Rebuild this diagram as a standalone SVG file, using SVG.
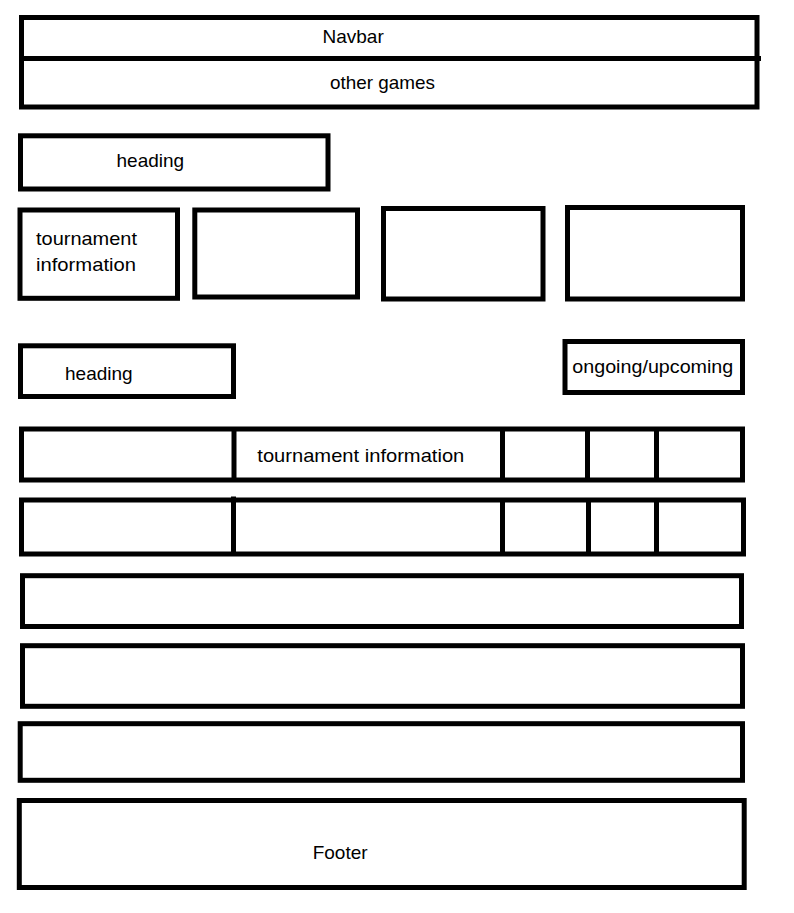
<svg xmlns="http://www.w3.org/2000/svg" width="794" height="913" viewBox="0 0 794 913">
<style>
  .box { fill: none; stroke: #000; stroke-width: 5; }
  .ln { stroke: #000; stroke-width: 5; }
  .t { font-family: "Liberation Sans", Arial, sans-serif; font-size: 19px; fill: #000; }
</style>
<rect width="794" height="913" fill="#fff"/>
<g id="navbar">
  <rect class="box" x="21.5" y="17.5" width="735.5" height="89.5"/>
  <line class="ln" x1="21.5" y1="58.5" x2="761" y2="58.5"/>
  <text class="t" x="322.5" y="43">Navbar</text>
  <text class="t" x="330" y="89" textLength="105" lengthAdjust="spacingAndGlyphs">other games</text>
</g>
<g id="heading1">
  <rect class="box" x="20.5" y="135.8" width="307.5" height="53.2"/>
  <text class="t" x="116.5" y="167">heading</text>
</g>
<g id="card1">
  <rect class="box" x="20" y="210" width="157.5" height="88.3"/>
  <text class="t" x="36" y="245" textLength="101" lengthAdjust="spacingAndGlyphs">tournament</text>
  <text class="t" x="36" y="271" textLength="100" lengthAdjust="spacingAndGlyphs">information</text>
</g>
<g id="card2">
  <rect class="box" x="194.8" y="210" width="162.7" height="87"/>
</g>
<g id="card3">
  <rect class="box" x="383.5" y="208.5" width="159.5" height="90.5"/>
</g>
<g id="card4">
  <rect class="box" x="567.5" y="207.5" width="175" height="91.5"/>
</g>
<g id="heading2">
  <rect class="box" x="20.5" y="345.8" width="213" height="50.7"/>
  <text class="t" x="65" y="380">heading</text>
</g>
<g id="ongoing">
  <rect class="box" x="565" y="341.5" width="177.5" height="51"/>
  <text class="t" x="572.3" y="373" textLength="161" lengthAdjust="spacingAndGlyphs">ongoing/upcoming</text>
</g>
<g id="row1">
  <rect class="box" x="21.5" y="429" width="721" height="51"/>
  <line class="ln" x1="234" y1="429" x2="234" y2="480"/>
  <line class="ln" x1="502.5" y1="429" x2="502.5" y2="480"/>
  <line class="ln" x1="587.5" y1="429" x2="587.5" y2="480"/>
  <line class="ln" x1="656.5" y1="429" x2="656.5" y2="480"/>
  <text class="t" x="257.3" y="462" textLength="207" lengthAdjust="spacingAndGlyphs">tournament information</text>
</g>
<g id="row2">
  <rect class="box" x="21.5" y="500" width="722" height="54"/>
  <line class="ln" x1="233.5" y1="496.5" x2="233.5" y2="554"/>
  <line class="ln" x1="502.5" y1="500" x2="502.5" y2="554"/>
  <line class="ln" x1="588.5" y1="500" x2="588.5" y2="554"/>
  <line class="ln" x1="656.5" y1="500" x2="656.5" y2="554"/>
</g>
<g id="section1">
  <rect class="box" x="22.5" y="575.7" width="719" height="50.8"/>
</g>
<g id="section2">
  <rect class="box" x="22.5" y="645.7" width="720" height="60.6"/>
</g>
<g id="section3">
  <rect class="box" x="20.2" y="723.7" width="722.3" height="56.6"/>
</g>
<g id="footer">
  <rect class="box" x="19.3" y="800.5" width="724.9" height="87"/>
  <text class="t" x="312.7" y="859">Footer</text>
</g>
<g id="connectors"></g>
</svg>
